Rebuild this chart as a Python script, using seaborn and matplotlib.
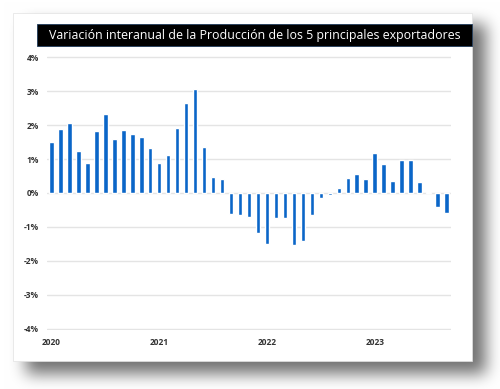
import numpy as np
import pandas as pd
import matplotlib
matplotlib.use("Agg")
import matplotlib.pyplot as plt
from matplotlib.patches import Rectangle
import seaborn as sns

# monthly year-on-year change, Jan 2020 .. Sep 2023 (%)
meses = pd.date_range("2020-01-01", periods=45, freq="MS").strftime("%Y-%m").tolist()
variacion = [1.51, 1.87, 2.07, 1.23, 0.87, 1.83, 2.31, 1.59, 1.85, 1.75, 1.66, 1.33,
             0.87, 1.12, 1.90, 2.64, 3.05, 1.35, 0.47, 0.41, -0.62, -0.65, -0.71, -1.19,
             -1.49, -0.74, -0.73, -1.52, -1.40, -0.64, -0.16, -0.06, 0.16, 0.43, 0.56, 0.41,
             1.19, 0.86, 0.35, 0.98, 0.98, 0.32, 0.02, -0.41, -0.59]
anios = ["2020", "2021", "2022", "2023"]
y_ticks = [-4, -3, -2, -1, 0, 1, 2, 3, 4]
titulo = "Variación interanual de la Producción de los 5 principales exportadores"

W, H = 500, 389
sns.set_theme(style="white")
plt.rcParams["font.family"] = ["Open Sans", "DejaVu Sans"]

fig = plt.figure(figsize=(W / 100, H / 100), dpi=100)
fig.patch.set_facecolor("white")

# soft drop shadow behind the card
bg = fig.add_axes([0, 0, 1, 1], zorder=-10)
bg.set_axis_off()
mask = np.zeros((H, W))
mask[24:374, 26:486] = 1.0
k = np.ones(15) / 15
for _ in range(3):
    mask = np.apply_along_axis(lambda r: np.convolve(r, k, mode="same"), 1, mask)
    mask = np.apply_along_axis(lambda c: np.convolve(c, k, mode="same"), 0, mask)
shade = 1 - 0.55 * mask
bg.imshow(np.dstack([shade] * 3), extent=(0, 1, 0, 1), aspect="auto", zorder=0)
bg.add_patch(Rectangle((13 / W, 1 - 361 / H), 459 / W, 348 / H,
                       transform=bg.transAxes, facecolor="white", edgecolor="#e2e2e2",
                       lw=0.5, zorder=1))
bg.set_xlim(0, 1)
bg.set_ylim(0, 1)

# title bar
fig.patches.append(Rectangle((37 / W, 1 - 46 / H), 435 / W, 22 / H,
                             transform=fig.transFigure, facecolor="black",
                             edgecolor="#1f3a5a", lw=0.6, zorder=5))
fig.text(255 / W, 1 - 35.5 / H, titulo, color="white", fontsize=8.9,
         ha="center", va="center", zorder=6)

ax = fig.add_axes([47 / W, 1 - 330 / H, 404 / W, 274 / H])
df = pd.DataFrame({"mes": meses, "variacion": variacion})
sns.barplot(data=df, x="mes", y="variacion", color="#0A66C8", saturation=1,
            width=0.5, ax=ax)
ax.set_xlim(-0.5, len(meses) - 0.5)
ax.set_ylim(-4.03, 4.03)
ax.set_yticks(y_ticks)
ax.set_yticklabels([f"{t}%" for t in y_ticks])
ax.set_xticks([0, 12, 24, 36])
ax.set_xticklabels(anios)
ax.grid(axis="y", color="#e4e4e4", lw=1)
ax.set_axisbelow(True)
for s in ax.spines.values():
    s.set_visible(False)
ax.set_xlabel("")
ax.set_ylabel("")
ax.tick_params(axis="both", length=0, labelsize=6, labelcolor="#333333")
ax.tick_params(axis="y", pad=6)
ax.tick_params(axis="x", pad=6)
for lab in ax.get_xticklabels() + ax.get_yticklabels():
    lab.set_fontweight("bold")
ax.patch.set_alpha(0)

fig.savefig("out.png", dpi=100)
